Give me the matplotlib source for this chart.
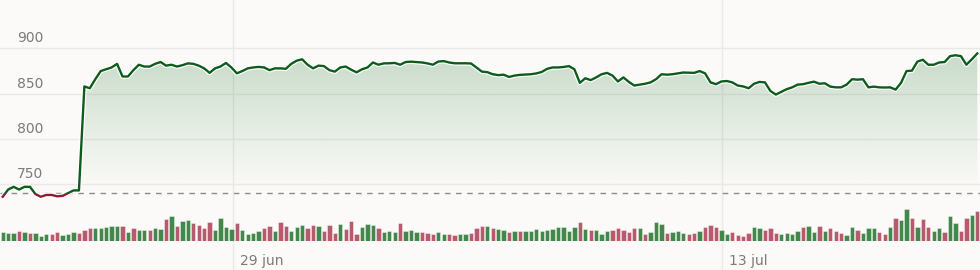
import numpy as np
import matplotlib
matplotlib.use('Agg')
import matplotlib.pyplot as plt
import matplotlib.patheffects as pe
from matplotlib.patches import Rectangle
from matplotlib.colors import to_rgb
from matplotlib.transforms import blended_transform_factory, offset_copy

# price per interval
price = [736, 744, 747, 744, 747, 747, 739, 736, 738, 738,
         736.5, 737, 740, 743, 743, 858, 856, 866, 875, 877,
         879, 883, 869, 869, 876, 882, 880, 880, 883, 885,
         881, 882, 880, 881.5, 883.5, 883, 881, 878, 873, 878,
         880, 884, 879, 872.5, 875, 878, 879, 879.6, 879, 876,
         878, 878, 877.5, 883, 886.5, 888, 882, 878, 881, 880.5,
         876, 874.4, 879, 880, 876.5, 873.6, 877, 879, 884.5, 882,
         883.5, 883.6, 884, 882, 885, 885.4, 885, 884.5, 883.5, 882,
         885.5, 886, 884.5, 883.6, 883.6, 883.6, 883.4, 879, 874.4, 873.8,
         871.5, 870.5, 871, 868.5, 870, 870.8, 871.2, 871.5, 872.4, 874,
         877.5, 879, 879, 879.5, 880.5, 877, 862, 867, 865, 868,
         871.5, 873, 870, 863.5, 868, 863, 859, 860, 861, 862.5,
         866, 871.5, 871, 871.5, 872.5, 873.4, 873.2, 873, 875, 872.5,
         862.5, 860.5, 863.5, 864, 862.5, 859, 858, 856, 861, 863,
         862.5, 853, 849, 852, 855, 857, 860, 860.5, 862, 863.3,
         861, 861.5, 857.8, 857, 857, 860, 866, 865.5, 866, 857,
         857.8, 857, 856.8, 857, 854.5, 862, 875, 875.5, 885.5, 887.5,
         882, 882, 884.5, 885, 891.5, 892.5, 891.5, 882, 888, 894.5]

volume = [8.3, 7.7, 7.3, 10, 8.3, 7.7, 7.3, 5, 6.3, 6.7,
          8.3, 5.3, 7, 8.7, 7.3, 10.3, 12.7, 12.3, 12.7, 14,
          14.3, 14.7, 14.3, 8.7, 13, 11, 10.7, 10.7, 12.7, 12,
          21.3, 24.3, 14.7, 19.7, 20.7, 17.7, 15.7, 12.7, 19, 10.3,
          22.7, 13.7, 12, 17.7, 11, 7, 7.7, 10, 13, 15,
          9.7, 18.3, 14.7, 9.7, 14, 15.3, 12.3, 15.3, 14.7, 10,
          15.3, 8, 16.7, 11.7, 19.3, 7, 14, 16.7, 15.7, 12.7,
          8.3, 9.3, 8.7, 17.7, 10, 10.7, 8.7, 8.7, 7.7, 6.7,
          8.7, 6.7, 7, 5.3, 6.3, 6.7, 7.7, 12.3, 14.7, 15,
          12.7, 11.7, 10.7, 8.7, 9.3, 9.7, 9.3, 9.3, 11.3, 9.7,
          10.7, 11.7, 13.3, 13.7, 10, 13.7, 18.3, 11.7, 10.7, 11,
          7, 9.7, 11, 12.7, 10.7, 8.3, 12.7, 12.3, 6.3, 9,
          18.7, 16.7, 8, 8.3, 9.3, 8, 6.3, 7.3, 9.7, 13.3,
          15.3, 14, 10.3, 6.7, 8.7, 5.7, 5, 7.7, 13.7, 12.3,
          10.3, 12.3, 8, 6.3, 7.7, 6.3, 10, 14, 15, 8.7,
          14.7, 10, 12.3, 9.7, 7.3, 5.7, 14, 11, 7.7, 12.3,
          12.3, 8.7, 7, 13.3, 22.3, 21, 31.7, 22.3, 13.3, 21.7,
          13.7, 10, 12.7, 9, 25, 17.7, 9.3, 22.7, 25.7, 29.7]

# G = up interval, R = down interval (10 per row)
vol_dir = list("GGGRGRGGGR"
               "RGGGRRRGGG"
               "GGRGRGGRGG"
               "RGRGGRRRRG"
               "GGGRGGGGRR"
               "GRRGGGRRGR"
               "RRGRRRGGGR"
               "GGGRGGGRRR"
               "GGRRGGRRRG"
               "RGGRGRGGGG"
               "GGGGGGRGRG"
               "GGRRRRRGRG"
               "GGRGGGRRGR"
               "RRGGRRRRGG"
               "RRRGGGGRGG"
               "RGRRRGGRGG"
               "GRRGRGGRGR"
               "RGGRGGRRGR")

prev_close = 740
y_ticks = [750, 800, 850, 900]
date_pos = [42.35, 132.2]
date_labels = ['29 jun', '13 jul']

bg = '#fbfaf8'
grid_c = '#ebe9e6'
up_line = '#0d5c1b'
down_line = '#8e1b33'

fig = plt.figure(figsize=(9.8, 2.7), dpi=100, facecolor=bg)
ax = fig.add_axes([0, 0, 1, 1])
ax.axis('off')
x = np.arange(len(price))
x0, x1 = -0.5, len(price) - 0.5

for v in y_ticks:
    ax.axhline(v, color=grid_c, lw=1, zorder=0)
for d in date_pos:
    ax.axvline(d, color=grid_c, lw=1, zorder=0)

# gradient area under the price line
poly = ax.fill_between(x, price, prev_close, color='none', lw=0)
rgba = np.zeros((256, 1, 4))
rgba[..., :3] = to_rgb('#2f7d3a')
rgba[..., 3] = np.linspace(0, 1, 256).reshape(-1, 1) ** 1.1 * 0.25
im = ax.imshow(rgba, extent=[x0, x1, prev_close, max(price)], origin='lower',
               aspect='auto', zorder=1, interpolation='bilinear')
im.set_clip_path(poly.get_paths()[0], transform=ax.transData)

ax.axhline(prev_close, color='#8c8c8c', lw=1, ls=(0, (4, 4)), zorder=2)

halo = [pe.withStroke(linewidth=3.4, foreground='white')]
l_up, = ax.plot(x, price, color=up_line, lw=1.7, zorder=3, path_effects=halo,
                solid_joinstyle='round')
l_dn, = ax.plot(x, price, color=down_line, lw=1.7, zorder=3, path_effects=halo,
                solid_joinstyle='round')
l_up.set_clip_path(Rectangle((x0, prev_close), x1 - x0, 500, transform=ax.transData))
l_dn.set_clip_path(Rectangle((x0, prev_close - 500), x1 - x0, 500, transform=ax.transData))

ax.set_xlim(x0, x1)
ax.set_ylim(655, 953.6)

trans_y = offset_copy(blended_transform_factory(ax.transAxes, ax.transData),
                      fig=fig, x=0, y=6, units='dots')
for v in y_ticks:
    ax.text(17 / 980, v, str(v), transform=trans_y, ha='left', va='baseline',
            fontsize=10, color='#7b7b7b')

trans_d = offset_copy(blended_transform_factory(ax.transData, ax.transAxes),
                      fig=fig, x=7, y=0, units='dots')
for d, lab in zip(date_pos, date_labels):
    ax.text(d, 5 / 270, lab, transform=trans_d, ha='left', va='baseline',
            fontsize=10, color='#7b7b7b')

# volume bars
ax2 = fig.add_axes([0, 29.3 / 270, 1, 0.3])
ax2.axis('off')
colors = ['#41884a' if c == 'G' else '#b85a6d' for c in vol_dir]
ax2.bar(x, volume, width=0.78, color=colors, edgecolor=(1, 1, 1, 0.55), linewidth=0.5)
ax2.set_xlim(x0, x1)
ax2.set_ylim(0, 0.3 * 270)

fig.savefig('out.png', dpi=100, facecolor=bg)
